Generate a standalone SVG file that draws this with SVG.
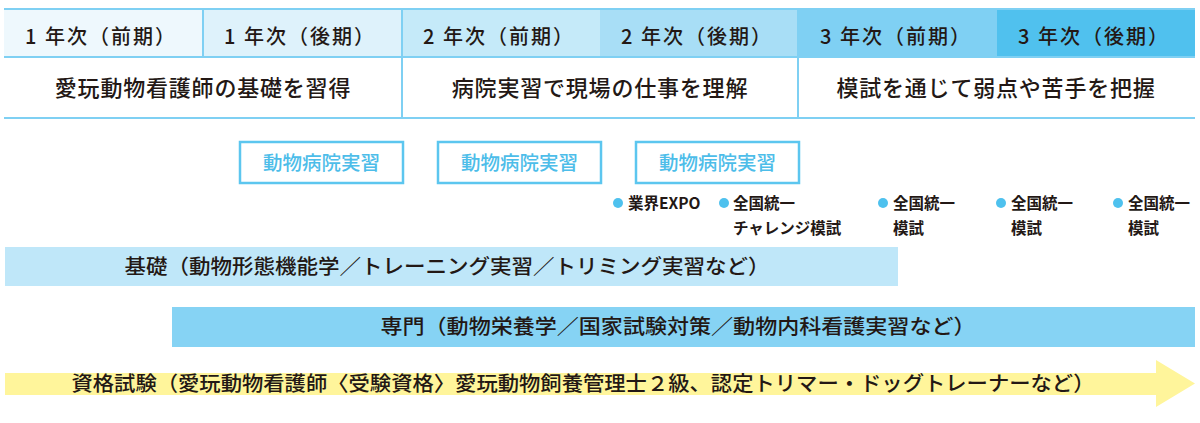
<svg xmlns="http://www.w3.org/2000/svg" width="1200" height="423" viewBox="0 0 1200 423">
<style>
text{font-family:"Noto Sans CJK JP","Noto Sans",sans-serif;fill:#231815}
.hd{font-size:20px;font-weight:500;text-anchor:middle;letter-spacing:2px}
.r2{font-size:22px;font-weight:500;text-anchor:middle;letter-spacing:0.8px}
.bx rect{fill:#fff;stroke:#5cc6ef;stroke-width:2.5}
.bx text{font-size:19.5px;font-weight:500;fill:#4dbde9;text-anchor:middle}
.bl circle{fill:#4ec1ee}
.bl text{font-size:15.5px;font-weight:700}
.bar{font-size:20.5px;font-weight:500;text-anchor:middle}
.ln{stroke:#7fd0f3;stroke-width:2;fill:none}
</style>
<rect width="1200" height="423" fill="#fff"/>
<g id="header">
<rect x="4" y="9" width="199" height="48" fill="#eef8fd"/>
<rect x="203" y="9" width="199" height="48" fill="#def2fb"/>
<rect x="402" y="9" width="198" height="48" fill="#c5eaf9"/>
<rect x="600" y="9" width="198" height="48" fill="#a8def6"/>
<rect x="798" y="9" width="199" height="48" fill="#7fd0f3"/>
<rect x="997" y="9" width="198" height="48" fill="#50c1ee"/>
<text class="hd" x="101" y="44">1 年次（前期）</text>
<text class="hd" x="300" y="44">1 年次（後期）</text>
<text class="hd" x="499" y="44">2 年次（前期）</text>
<text class="hd" x="697" y="44">2 年次（後期）</text>
<text class="hd" x="896" y="44">3 年次（前期）</text>
<text class="hd" x="1094" y="44">3 年次（後期）</text>
</g>
<g id="grid">
<line class="ln" x1="4" y1="9" x2="1195" y2="9"/>
<line class="ln" x1="4" y1="57" x2="1195" y2="57"/>
<line class="ln" x1="4" y1="118" x2="1195" y2="118"/>
<line class="ln" x1="203" y1="9" x2="203" y2="57" stroke-width="1.2"/>
<line class="ln" x1="402" y1="9" x2="402" y2="118" stroke-width="1.2"/>
<line class="ln" x1="798" y1="9" x2="798" y2="118" stroke-width="1.2"/>
</g>
<g id="goals">
<text class="r2" x="203" y="96">愛玩動物看護師の基礎を習得</text>
<text class="r2" x="600" y="96">病院実習で現場の仕事を理解</text>
<text class="r2" x="996" y="96">模試を通じて弱点や苦手を把握</text>
</g>
<g id="practice1" class="bx"><rect x="240" y="142" width="163" height="41"/><text x="321.5" y="170">動物病院実習</text></g>
<g id="practice2" class="bx"><rect x="438" y="142" width="163" height="41"/><text x="519.5" y="170">動物病院実習</text></g>
<g id="practice3" class="bx"><rect x="636" y="142" width="163" height="41"/><text x="717.5" y="170">動物病院実習</text></g>
<g id="events" class="bl">
<circle cx="618" cy="203" r="5"/><text x="628" y="209">業界EXPO</text>
<circle cx="724" cy="203" r="5"/><text x="733" y="209">全国統一</text><text x="733" y="234">チャレンジ模試</text>
<circle cx="883" cy="203" r="5"/><text x="893" y="209">全国統一</text><text x="893" y="234">模試</text>
<circle cx="1001" cy="203" r="5"/><text x="1011" y="209">全国統一</text><text x="1011" y="234">模試</text>
<circle cx="1118" cy="203" r="5"/><text x="1128" y="209">全国統一</text><text x="1128" y="234">模試</text>
</g>
<g id="basic">
<rect x="5" y="247" width="893" height="39" fill="#bfe7f9"/>
<text class="bar" x="447" y="274" textLength="645" lengthAdjust="spacingAndGlyphs">基礎（動物形態機能学／トレーニング実習／トリミング実習など）</text>
</g>
<g id="special">
<rect x="172" y="307" width="1023" height="40" fill="#86d3f4"/>
<text class="bar" x="678" y="334" textLength="595" lengthAdjust="spacingAndGlyphs">専門（動物栄養学／国家試験対策／動物内科看護実習など）</text>
</g>
<g id="license">
<polygon points="5,373 1156,373 1156,360 1195,383.5 1156,407 1156,395 5,395" fill="#fff59b"/>
<text class="bar" x="583" y="391" textLength="1023" lengthAdjust="spacingAndGlyphs">資格試験（愛玩動物看護師〈受験資格〉愛玩動物飼養管理士２級、認定トリマー・ドッグトレーナーなど）</text>
</g>
<g id="connectors"></g>
</svg>
